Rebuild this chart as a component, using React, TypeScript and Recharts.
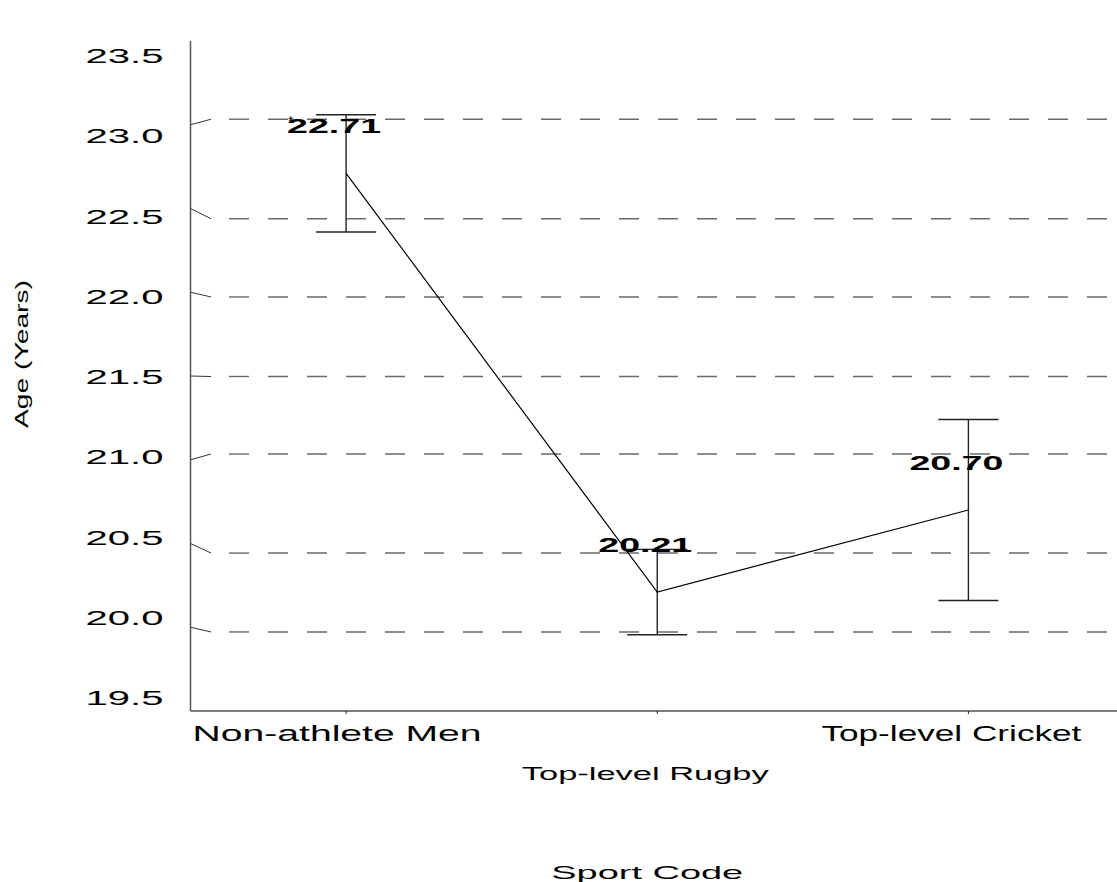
import React from "react";
import {
  ComposedChart, Line, XAxis, YAxis, ErrorBar, LabelList, ReferenceLine, Label,
} from "recharts";

// Mean age per group with its error half-width
const categories = ["Non-athlete Men", "Top-level Rugby", "Top-level Cricket"];
const meanAge = [22.71, 20.21, 20.7];
const ageError = [0.35, 0.255, 0.54];
const sigMarks = ["*", "", ""];

const yTicks = [19.5, 20.0, 20.5, 21.0, 21.5, 22.0, 22.5, 23.0, 23.5];
// the dashed rules sit slightly off their axis ticks, joined by a short slanted stroke
const ruleTicks = [20.0, 20.5, 21.0, 21.5, 22.0, 22.5, 23.0];
const ruleLevels = [19.972, 20.443, 21.034, 21.497, 21.972, 22.439, 23.033];

const FONT = "'Liberation Sans', Arial, sans-serif";
const CHART_W = 1130;
const CHART_H = 882;
const MARGIN = { top: 41, right: 6, bottom: 0, left: 0 };
const X_AXIS_H = 171;
const Y_MIN = 19.5;
const Y_MAX = 23.5;
const PX_PER_YEAR = (CHART_H - MARGIN.top - MARGIN.bottom - X_AXIS_H) / (Y_MAX - Y_MIN);

const rows = categories.map((name, i) => ({
  name,
  age: meanAge[i],
  err: ageError[i],
  mark: sigMarks[i],
}));

const labelWidths = [289, 247, 260];
const labelShift = [-9, -12, -17];

const XTick = (props: any) => {
  const { x, y, payload, index } = props;
  const low = index % 2 === 1;
  return (
    <text
      x={x + labelShift[index]}
      y={y + (low ? 66 : 27)}
      textAnchor="middle"
      fontFamily={FONT}
      fontSize={low ? 19 : 22}
      fill="#000"
      textLength={labelWidths[index]}
      lengthAdjust="spacingAndGlyphs"
    >
      {payload.value}
    </text>
  );
};

const YTick = (props: any) => {
  const { x, y, payload } = props;
  const v = payload.value as number;
  // labels are packed a little tighter than the scale itself
  const cy = y + (v - 21.5) * 7 + 1;
  return (
    <text
      x={x - 27}
      y={cy + 7}
      textAnchor="end"
      fontFamily={FONT}
      fontSize={20}
      fill="#000"
      textLength={78}
      lengthAdjust="spacingAndGlyphs"
    >
      {v.toFixed(1)}
    </text>
  );
};

const GridRule = (props: any) => {
  const { x1, y1, x2, tick, level } = props;
  const yTick = y1 + (level - tick) * PX_PER_YEAR;
  const bend = x1 + 20.5;
  return (
    <g>
      <line x1={x1} y1={yTick} x2={bend} y2={y1} stroke="#333" strokeWidth={1} />
      <line
        x1={bend}
        y1={y1}
        x2={x2}
        y2={y1}
        stroke="#6a6a6a"
        strokeWidth={1.4}
        strokeDasharray="20 19"
        strokeDashoffset={21}
      />
    </g>
  );
};

const ValueLabel = (props: any) => {
  const { x, y, value, index } = props;
  const cx = x - 12;
  const base = y - 40;
  const mark = sigMarks[index];
  return (
    <g>
      {mark && (
        <text x={cx - 46} y={base - 7} fontFamily={FONT} fontSize={14} fill="#000">
          {mark}
        </text>
      )}
      <text
        x={cx}
        y={base}
        textAnchor="middle"
        fontFamily={FONT}
        fontSize={20}
        fontWeight="bold"
        fill="#000"
        textLength={94}
        lengthAdjust="spacingAndGlyphs"
      >
        {Number(value).toFixed(2)}
      </text>
    </g>
  );
};

export default function App() {
  return (
    <div
      style={{
        position: "fixed",
        top: 0,
        left: 0,
        width: 1117,
        height: 882,
        overflow: "hidden",
        background: "#fff",
      }}
    >
      <ComposedChart width={CHART_W} height={CHART_H} data={rows} margin={MARGIN}>
        <XAxis
          dataKey="name"
          scale="band"
          height={X_AXIS_H}
          interval={0}
          axisLine={{ stroke: "#555", strokeWidth: 1.5 }}
          tickLine={{ stroke: "#222" }}
          tickSize={3}
          tickMargin={0}
          tick={<XTick />}
        >
          <Label
            content={(p: any) => {
              const vb = p.viewBox;
              return (
                <text
                  x={vb.x + vb.width / 2 - 10}
                  y={CHART_H - 3}
                  textAnchor="middle"
                  fontFamily={FONT}
                  fontSize={19}
                  fill="#000"
                  textLength={192}
                  lengthAdjust="spacingAndGlyphs"
                >
                  Sport Code
                </text>
              );
            }}
          />
        </XAxis>
        <XAxis
          xAxisId="top"
          orientation="top"
          dataKey="name"
          scale="band"
          height={0}
          interval={0}
          axisLine={{ stroke: "#555", strokeWidth: 1.5 }}
          tickLine={{ stroke: "#222" }}
          tickSize={2}
          tick={() => <g />}
        />
        <YAxis
          type="number"
          domain={[Y_MIN, Y_MAX]}
          ticks={yTicks}
          interval={0}
          width={190.5}
          axisLine={{ stroke: "#555", strokeWidth: 1.5 }}
          tickLine={false}
          tickSize={0}
          tickMargin={0}
          tick={<YTick />}
        >
          <Label
            content={(p: any) => {
              const vb = p.viewBox;
              const cx = 22;
              const cy = vb.y + vb.height / 2 - 22;
              return (
                <text
                  x={cx}
                  y={cy}
                  transform={`rotate(-90 ${cx} ${cy})`}
                  textAnchor="middle"
                  dominantBaseline="central"
                  fontFamily={FONT}
                  fontSize={18}
                  fill="#000"
                  textLength={148}
                  lengthAdjust="spacingAndGlyphs"
                >
                  Age (Years)
                </text>
              );
            }}
          />
        </YAxis>
        {ruleLevels.map((level, i) => (
          <ReferenceLine
            key={level}
            y={level}
            shape={(p: any) => <GridRule {...p} level={level} tick={ruleTicks[i]} />}
          />
        ))}
        <Line
          type="linear"
          dataKey="age"
          stroke="#000"
          strokeWidth={1.2}
          dot={false}
          activeDot={false}
          isAnimationActive={false}
        >
          <ErrorBar dataKey="err" direction="y" width={30} stroke="#222" strokeWidth={1.4} />
          <LabelList dataKey="age" content={<ValueLabel />} />
        </Line>
      </ComposedChart>
    </div>
  );
}
